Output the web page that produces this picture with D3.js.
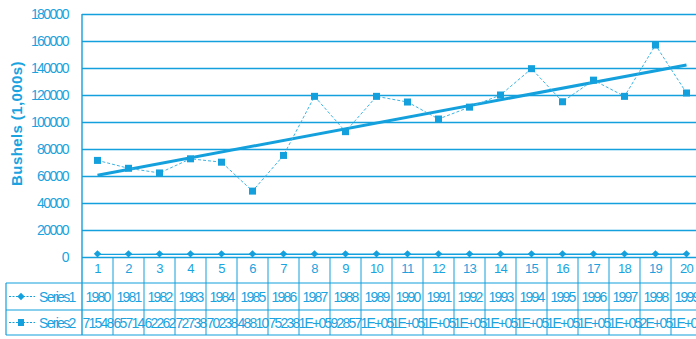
<!DOCTYPE html>
<html>
<head>
<meta charset="utf-8">
<script src="https://cdn.jsdelivr.net/npm/d3@7"></script>
<style>
  html, body { margin: 0; padding: 0; background: #ffffff; }
  svg { display: block; }
  text { font-family: "Liberation Sans", Arial, sans-serif; fill: #1aa3df; }
</style>
</head>
<body>
<script>
// Chart data
const categories = d3.range(1, 21);
const series1 = [1980, 1981, 1982, 1983, 1984, 1985, 1986, 1987, 1988, 1989,
                 1990, 1991, 1992, 1993, 1994, 1995, 1996, 1997, 1998, 1999];
const series2 = [71548, 65714, 62262, 72738, 70238, 48810, 75238, 119000, 92857, 119000,
                 114800, 102200, 111000, 120000, 139500, 115000, 131000, 119000, 157000, 121500];
const yTicks = [0, 20000, 40000, 60000, 80000, 100000, 120000, 140000, 160000, 180000];
const seriesNames = ["Series1", "Series2"];

const W = 696, H = 339;
const blue = "#13a0dc";
const plotL = 82, plotR = 702, plotT = 14, plotB = 257;
const rowY = [257, 283, 310, 335];   // data-table row boundaries
const tableL = 6;

const svg = d3.select("body").append("svg").attr("width", W).attr("height", H);

const x = d3.scaleBand().domain(categories).range([plotL, plotR]).padding(0);
const y = d3.scaleLinear().domain([0, 180000]).range([plotB, plotT]);
const cx = c => x(c) + x.bandwidth() / 2;

// Horizontal gridlines + value labels
const yAxis = svg.append("g")
  .attr("transform", `translate(${plotL},0)`)
  .call(d3.axisLeft(y).tickValues(yTicks).tickSize(-(plotR - plotL)).tickPadding(14)
        .tickFormat(d3.format("d")));
yAxis.select(".domain").remove();
yAxis.selectAll(".tick line").attr("stroke", blue).attr("stroke-width", 1.6);
yAxis.selectAll(".tick text")
  .attr("font-size", 14).attr("letter-spacing", -1.6).attr("fill", "#1aa3df")
  .style("font-family", "'Liberation Sans', Arial, sans-serif");

// Axis title
svg.append("text")
  .attr("transform", `translate(22,${(plotT + plotB) / 2 - 12}) rotate(-90)`)
  .attr("text-anchor", "middle")
  .attr("font-size", 15).attr("font-weight", "bold").attr("letter-spacing", 0.4)
  .text("Bushels (1,000s)");

// Data table grid
const grid = svg.append("g").attr("stroke", blue).attr("fill", "none");
grid.append("line").attr("x1", plotL).attr("x2", plotL).attr("y1", plotT).attr("y2", rowY[3])
  .attr("stroke-width", 1.4);
[rowY[1], rowY[2], rowY[3]].forEach(yy => {
  grid.append("line").attr("x1", tableL).attr("x2", plotR).attr("y1", yy).attr("y2", yy)
    .attr("stroke-width", 1.2);
});
grid.append("line").attr("x1", tableL).attr("x2", tableL).attr("y1", rowY[1]).attr("y2", rowY[3])
  .attr("stroke-width", 1.2);
categories.forEach(c => {
  grid.append("line").attr("x1", x(c) + x.bandwidth()).attr("x2", x(c) + x.bandwidth())
    .attr("y1", rowY[0]).attr("y2", rowY[3]).attr("stroke-width", 1);
});

// Category labels
const xAxis = svg.append("g").attr("transform", `translate(0,${rowY[0]})`)
  .call(d3.axisBottom(x).tickSize(0).tickPadding(7));
xAxis.select(".domain").remove();
xAxis.selectAll(".tick text")
  .attr("font-size", 13).attr("letter-spacing", -0.6).attr("fill", "#1aa3df")
  .style("font-family", "'Liberation Sans', Arial, sans-serif");

// Table values, Excel-style number display in narrow cells
const cellFmt = v => {
  if (v < 100000) return String(Math.round(v));
  const e = Math.floor(Math.log10(v));
  const m = Math.round(v / Math.pow(10, e));
  return m + "E+" + String(e).padStart(2, "0");
};
const tableRows = [series1, series2];
tableRows.forEach((vals, r) => {
  const yy = (rowY[r + 1] + rowY[r + 2]) / 2 + 5;
  svg.append("g").selectAll("text").data(categories).join("text")
    .attr("x", c => cx(c)).attr("y", yy)
    .attr("text-anchor", "middle")
    .attr("font-size", 14).attr("letter-spacing", -1.8)
    .text((c, i) => r === 0 ? String(vals[i]) : cellFmt(vals[i]));
});

// Trendline for Series2 (least-squares linear fit)
const n = categories.length;
const mx = d3.mean(categories), my = d3.mean(series2);
const slope = d3.sum(categories, (c, i) => (c - mx) * (series2[i] - my)) /
              d3.sum(categories, c => (c - mx) * (c - mx));
const icpt = my - slope * mx;
const trend = [categories[0], categories[n - 1]].map(c => [c, icpt + slope * c]);
svg.append("path")
  .datum(trend)
  .attr("fill", "none").attr("stroke", blue).attr("stroke-width", 3)
  .attr("d", d3.line().x(d => cx(d[0])).y(d => y(d[1])));

// Series2 line + square markers
svg.append("path")
  .datum(series2)
  .attr("fill", "none").attr("stroke", "#3ab4e6").attr("stroke-width", 1)
  .attr("stroke-dasharray", "3,2")
  .attr("d", d3.line().x((d, i) => cx(categories[i])).y(d => y(d)));
svg.append("g").selectAll("rect").data(series2).join("rect")
  .attr("x", (d, i) => cx(categories[i]) - 3.5).attr("y", d => y(d) - 3.5)
  .attr("width", 7).attr("height", 7).attr("fill", blue);

// Series1 line + diamond markers
svg.append("path")
  .datum(series1)
  .attr("fill", "none").attr("stroke", blue).attr("stroke-width", 1.4)
  .attr("d", d3.line().x((d, i) => cx(categories[i])).y(d => y(d)));
const diamond = d3.symbol().type(d3.symbolDiamond2).size(34);
svg.append("g").selectAll("path").data(series1).join("path")
  .attr("transform", (d, i) => `translate(${cx(categories[i])},${y(d) - 0.5})`)
  .attr("d", diamond).attr("fill", blue);

// Legend keys in the table
seriesNames.forEach((name, r) => {
  const yy = (rowY[r + 1] + rowY[r + 2]) / 2;
  const g = svg.append("g");
  g.append("line").attr("x1", 9).attr("x2", 35).attr("y1", yy).attr("y2", yy)
    .attr("stroke", blue).attr("stroke-width", 1).attr("stroke-dasharray", "2,1.5");
  if (r === 0) {
    g.append("path").attr("transform", `translate(21,${yy})`).attr("d", diamond).attr("fill", blue);
  } else {
    g.append("rect").attr("x", 18).attr("y", yy - 3.5).attr("width", 6).attr("height", 7).attr("fill", blue);
  }
  g.append("text").attr("x", 39).attr("y", yy + 5)
    .attr("font-size", 14).attr("letter-spacing", -1.7).text(name);
});
</script>
</body>
</html>
